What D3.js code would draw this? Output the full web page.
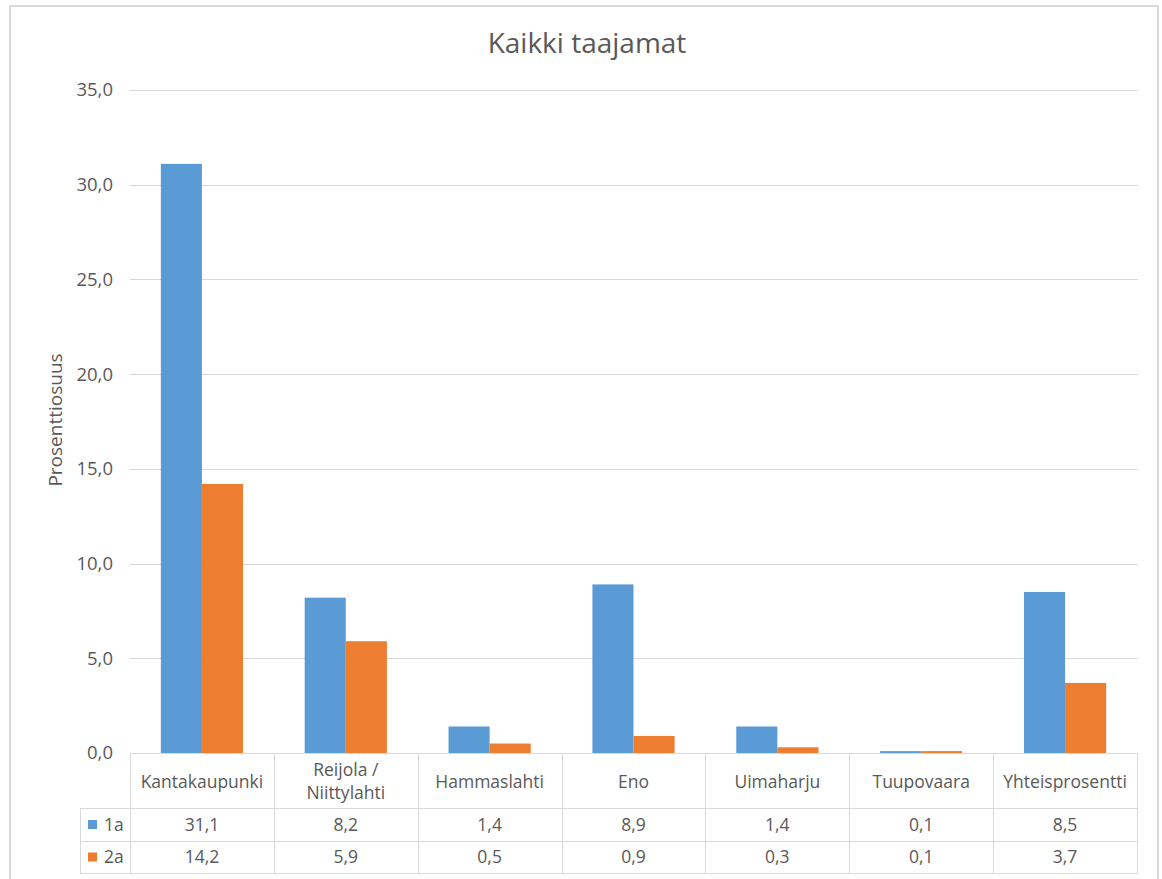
<!DOCTYPE html>
<html><head><meta charset="utf-8">
<script src="https://cdn.jsdelivr.net/npm/d3@7"></script>
<style>
html,body{margin:0;padding:0;background:#fff;}
svg{display:block;}
text{font-family:"Open Sans",sans-serif;fill:#595959;}
</style></head>
<body>
<script>
const title = "Kaikki taajamat";
const yTitle = "Prosenttiosuus";
const categories = ["Kantakaupunki", "Reijola / Niittylahti", "Hammaslahti", "Eno", "Uimaharju", "Tuupovaara", "Yhteisprosentti"];
const categoryLines = [["Kantakaupunki"], ["Reijola /", "Niittylahti"], ["Hammaslahti"], ["Eno"], ["Uimaharju"], ["Tuupovaara"], ["Yhteisprosentti"]];
const seriesNames = ["1a", "2a"];
const values1a = [31.1, 8.2, 1.4, 8.9, 1.4, 0.1, 8.5];
const values2a = [14.2, 5.9, 0.5, 0.9, 0.3, 0.1, 3.7];
const yTicks = [0, 5, 10, 15, 20, 25, 30, 35];
const colors = ["#5B9BD5", "#ED7D31"];

(function () {
const W = 1162, H = 879;
const svg = d3.select("body").append("svg").attr("width", W).attr("height", H);
const loc = d3.formatLocale({decimal: ",", thousands: " ", grouping: [3], currency: ["", "€"]});
const fmt = loc.format(".1f");

// frame
svg.append("rect").attr("x", 10).attr("y", 6).attr("width", 1148).attr("height", 900)
  .attr("fill", "none").attr("stroke", "#D9D9D9").attr("stroke-width", 2);

const pL = 130, pR = 1137, pT = 90, pB = 753;
const y = d3.scaleLinear().domain([0, 35]).range([pB, pT]);
const x = d3.scaleBand().domain(categories).range([pL, pR]).paddingInner(0).paddingOuter(0);
const bw = x.bandwidth() / 3.5;
const series = [values1a, values2a];

// gridlines
svg.append("g").selectAll("line").data(yTicks.filter(d => d > 0)).join("line")
  .attr("x1", pL).attr("x2", pR + 1)
  .attr("y1", d => Math.round(y(d)) + 0.5).attr("y2", d => Math.round(y(d)) + 0.5)
  .attr("stroke", "#D9D9D9").attr("stroke-width", 1);

// y axis tick labels
const yAxis = d3.axisLeft(y).tickValues(yTicks).tickFormat(fmt).tickSize(0).tickPadding(0);
const gy = svg.append("g").attr("transform", `translate(113,0)`).call(yAxis);
gy.select(".domain").remove();
gy.selectAll("text").attr("font-size", 18.5).attr("fill", "#595959").attr("font-family", "Open Sans");

// bars
series.forEach((vals, si) => {
  svg.append("g").selectAll("rect").data(categories).join("rect")
    .attr("x", d => x(d) + x.bandwidth() / 2 - bw + si * bw)
    .attr("width", bw)
    .attr("y", (d, i) => y(vals[i]))
    .attr("height", (d, i) => y(0) - y(vals[i]))
    .attr("fill", colors[si]);
});

// title
svg.append("text").attr("x", 587).attr("y", 53).attr("text-anchor", "middle")
  .attr("font-size", 28).text(title);

// y title
svg.append("text").attr("transform", `translate(62,420) rotate(-90)`)
  .attr("text-anchor", "middle").attr("font-size", 19).text(yTitle);

// data table
const rowCat = [753, 808], row1 = [808, 841], row2 = [841, 873];
const tg = svg.append("g").attr("stroke", "#D9D9D9").attr("stroke-width", 1);
tg.append("line").attr("x1", pL).attr("x2", pR).attr("y1", 753.5).attr("y2", 753.5);
[808, 841, 873].forEach(yy => tg.append("line").attr("x1", 80).attr("x2", pR).attr("y1", yy + 0.5).attr("y2", yy + 0.5));
tg.append("line").attr("x1", 80.5).attr("x2", 80.5).attr("y1", 808).attr("y2", 874);
categories.forEach(c => {
  const xx = Math.round(x(c)) + 0.5;
  tg.append("line").attr("x1", xx).attr("x2", xx).attr("y1", 753).attr("y2", 874);
});
tg.append("line").attr("x1", pR + 0.5).attr("x2", pR + 0.5).attr("y1", 753).attr("y2", 874);

// category labels
categories.forEach((c, i) => {
  const lines = categoryLines[i];
  const cx = x(c) + x.bandwidth() / 2;
  const cy = (rowCat[0] + rowCat[1]) / 2 + 1;
  lines.forEach((ln, li) => {
    svg.append("text").attr("x", cx).attr("y", cy + (li - (lines.length - 1) / 2) * 23)
      .attr("dy", "0.35em").attr("text-anchor", "middle").attr("font-size", 17.5).text(ln);
  });
});

// values rows
[row1, row2].forEach((row, si) => {
  const cy = (row[0] + row[1]) / 2;
  categories.forEach((c, i) => {
    svg.append("text").attr("x", x(c) + x.bandwidth() / 2).attr("y", cy).attr("dy", "0.35em")
      .attr("text-anchor", "middle").attr("font-size", 17.5).text(fmt(series[si][i]));
  });
  svg.append("rect").attr("x", 88).attr("y", cy - 4.5).attr("width", 9).attr("height", 9).attr("fill", colors[si]);
  svg.append("text").attr("x", 104).attr("y", cy).attr("dy", "0.35em").attr("font-size", 17.5).text(seriesNames[si]);
});
})();
</script>
</body></html>
